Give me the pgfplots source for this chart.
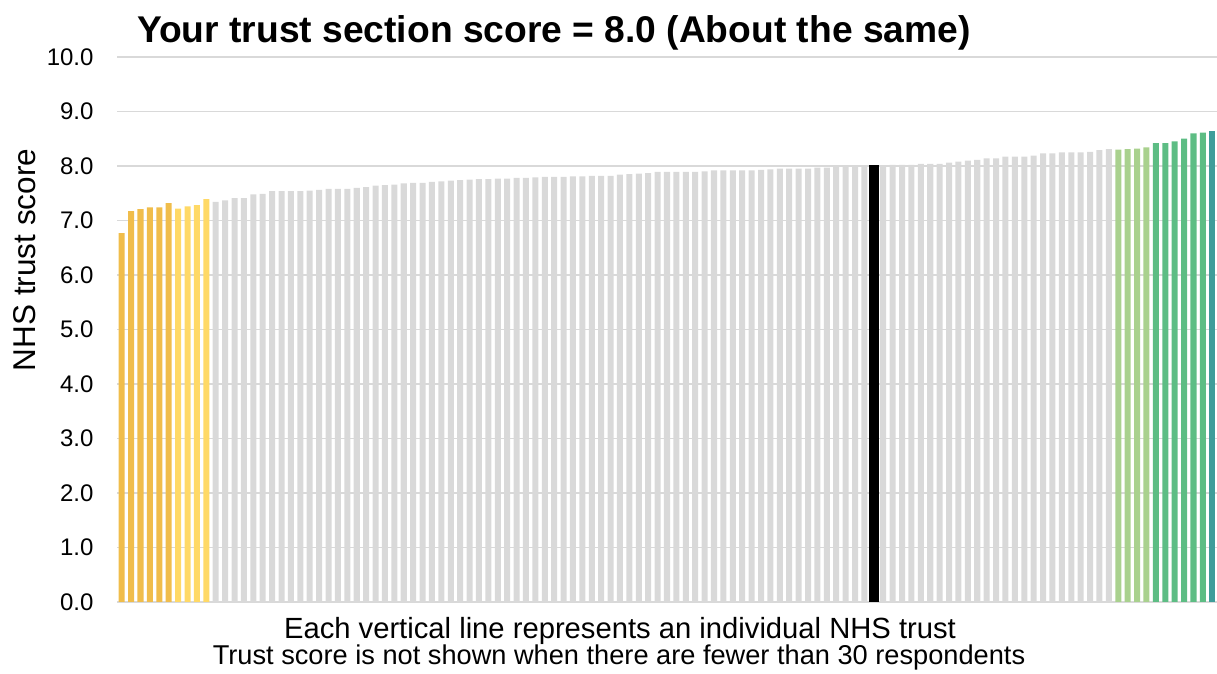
\documentclass[border=0pt]{standalone}
\usepackage{pgfplots}
\pgfplotsset{compat=1.18}
\usepackage{fontspec}
\setmainfont{Liberation Sans}
\definecolor{cgold}{HTML}{F0BD4B}
\definecolor{cyellow}{HTML}{FFD966}
\definecolor{cgray}{HTML}{D9D9D9}
\definecolor{clgreen}{HTML}{A9D18E}
\definecolor{cgreen}{HTML}{5DBD84}
\definecolor{cteal}{HTML}{3E9D9A}
\begin{document}
\begin{tikzpicture}[x=1pt,y=1pt]
\path[use as bounding box] (0,0) rectangle (1217,674);
\begin{axis}[
  at={(117pt,72pt)}, anchor=south west,
  scale only axis, width=1100pt, height=545pt,
  xmin=-0.5, xmax=116.5, ymin=0, ymax=10,
  ytick={0,1,...,10}, xtick=\empty,
  ymajorgrids, grid style={color=cgray, line width=1.6pt},
  axis line style={draw=none},
  major tick length=0pt,
  tick label style={font=\fontsize{24}{28}\selectfont},
  yticklabel style={xshift=-20pt,
    /pgf/number format/fixed, /pgf/number format/fixed zerofill,
    /pgf/number format/precision=1, /pgf/number format/assume math mode=true},
  ybar, bar shift=0pt, bar width=0.64,
  every axis plot/.append style={draw=none},
]
\addplot[fill=cgold] coordinates {(0,6.77)(1,7.17)(2,7.21)(3,7.24)(4,7.24)(5,7.32)};
\addplot[fill=cyellow] coordinates {(6,7.22)(7,7.26)(8,7.28)(9,7.39)};
\addplot[fill=cgray] coordinates {
(10,7.34)(11,7.37)(12,7.41)(13,7.41)(14,7.48)(15,7.49)(16,7.54)(17,7.54)(18,7.54)(19,7.54)
(20,7.55)(21,7.56)(22,7.58)(23,7.58)(24,7.58)(25,7.60)(26,7.61)(27,7.64)(28,7.65)(29,7.66)
(30,7.68)(31,7.69)(32,7.69)(33,7.71)(34,7.72)(35,7.73)(36,7.74)(37,7.75)(38,7.76)(39,7.76)
(40,7.77)(41,7.77)(42,7.78)(43,7.78)(44,7.79)(45,7.80)(46,7.80)(47,7.80)(48,7.81)(49,7.81)
(50,7.82)(51,7.82)(52,7.82)(53,7.84)(54,7.85)(55,7.86)(56,7.87)(57,7.89)(58,7.89)(59,7.89)
(60,7.89)(61,7.89)(62,7.90)(63,7.92)(64,7.92)(65,7.92)(66,7.92)(67,7.92)(68,7.93)(69,7.94)
(70,7.95)(71,7.95)(72,7.95)(73,7.95)(74,7.97)(75,7.97)(76,7.98)(77,7.98)(78,7.98)(79,7.98)
(81,8.01)(82,8.02)(83,8.02)(84,8.02)(85,8.04)(86,8.04)(87,8.04)(88,8.06)(89,8.08)
(90,8.10)(91,8.11)(92,8.14)(93,8.14)(94,8.17)(95,8.17)(96,8.17)(97,8.19)(98,8.23)(99,8.23)
(100,8.25)(101,8.25)(102,8.25)(103,8.26)(104,8.29)(105,8.31)};
\addplot[fill=black, bar width=1.05] coordinates {(80,8.01)};
\addplot[fill=clgreen] coordinates {(106,8.30)(107,8.31)(108,8.32)(109,8.34)};
\addplot[fill=cgreen] coordinates {(110,8.42)(111,8.42)(112,8.45)(113,8.50)(114,8.60)(115,8.61)};
\addplot[fill=cteal] coordinates {(116,8.64)};
\end{axis}
\node[anchor=base west, inner sep=0pt, font=\bfseries\fontsize{37.2}{40}\selectfont] at (137,631) {Your trust section score = 8.0 (About the same)};
\node[rotate=90, inner sep=0pt, font=\fontsize{31.5}{34}\selectfont] at (25,414) {NHS trust score};
\node[anchor=base, inner sep=0pt, font=\fontsize{29.2}{32}\selectfont] at (620,35.3) {Each vertical line represents an individual NHS trust};
\node[anchor=base, inner sep=0pt, font=\fontsize{27.2}{30}\selectfont] at (619,9.5) {Trust score is not shown when there are fewer than 30 respondents};
\end{tikzpicture}
\end{document}
